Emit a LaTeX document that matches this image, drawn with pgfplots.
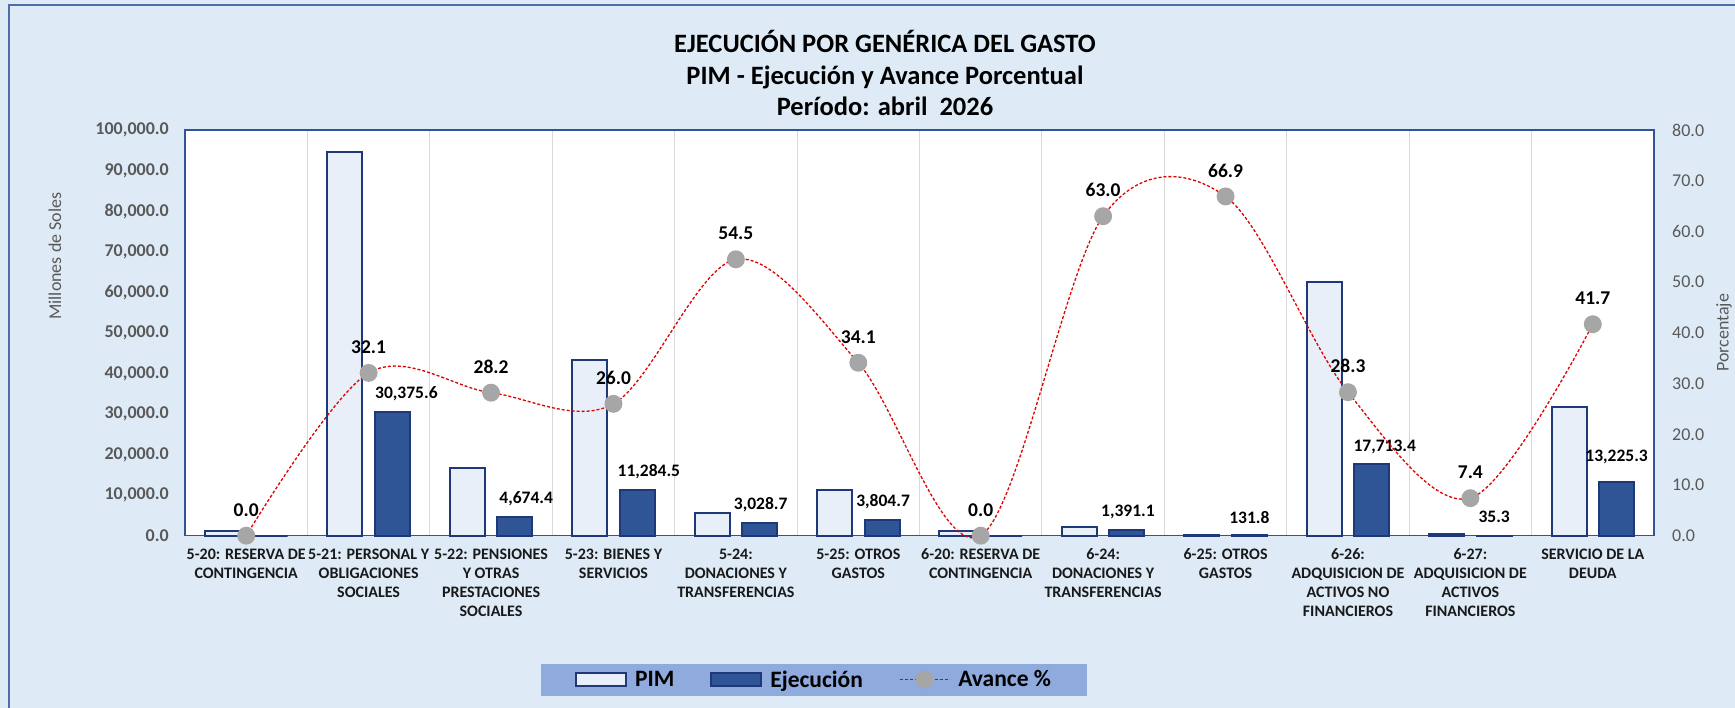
\documentclass[border=0pt]{standalone}
\usepackage{fontspec}
\setmainfont{Carlito}
\usepackage{pgfplots}
\usepackage{pgfplotstable}
\pgfplotsset{compat=1.18}

\definecolor{bgblue}{RGB}{222,235,247}
\definecolor{frameblue}{RGB}{47,85,151}
\definecolor{navy}{RGB}{31,56,120}
\definecolor{pimfill}{RGB}{232,239,249}
\definecolor{ejefill}{RGB}{47,85,151}
\definecolor{legblue}{RGB}{143,170,220}
\definecolor{ticgray}{RGB}{89,89,89}
\definecolor{gridgray}{RGB}{217,217,217}
\definecolor{mkgray}{RGB}{166,166,166}
\definecolor{linered}{RGB}{224,0,0}

\newcommand\ftitle{\fontsize{26.5}{32}\selectfont\bfseries}
\newcommand\fxtick{\fontsize{16}{19}\selectfont\bfseries}
\newcommand\fytick{\fontsize{18}{21}\selectfont\bfseries}
\newcommand\frtick{\fontsize{18}{21}\selectfont}
\newcommand\faxlab{\fontsize{18}{21}\selectfont}
\newcommand\fbar{\fontsize{17.5}{20}\selectfont\bfseries}
\newcommand\fpct{\fontsize{19.5}{22}\selectfont\bfseries}
\newcommand\fleg{\fontsize{23.5}{26}\selectfont\bfseries}

% x pim ejec pct (avance %), label text and label offsets of the Ejecucion bars
\pgfplotstableread{
x pim ejec pct ejlab dx dy
0 1150 0 0.0 {} 0 18
1 94628 30375.6 32.1 30,375.6 14 19
2 16576 4674.4 28.2 4,674.4 11.4 18.4
3 43402 11284.5 26.0 11,284.5 11.6 18.2
4 5557 3028.7 54.5 3,028.7 1 18.4
5 11157 3804.7 34.1 3,804.7 1 18.6
6 1100 0 0.0 {} 0 18
7 2208 1391.1 63.0 1,391.1 1 17.8
8 197 131.8 66.9 131.8 0 18
9 62591 17713.4 28.3 17,713.4 13 17
10 477 35.3 7.4 35.3 0 19
11 31715 13225.3 41.7 13,225.3 0 25
}\datatable

\pgfplotsset{
  barleg/.style={legend image code/.code={\draw[##1] (0pt,-6.5pt) rectangle (50pt,6.5pt);}},
  lineleg/.style={legend image code/.code={\draw[mark repeat=2,mark phase=2,##1] plot coordinates {(0pt,0pt) (25pt,0pt) (50pt,0pt)};}},
  commonax/.style={
    at={(185pt,172.3pt)}, anchor=south west,
    scale only axis, width=1469pt, height=405.7pt,
    xmin=-0.5, xmax=11.5,
    major tick length=0pt, minor tick length=0pt,
    axis line style={frameblue, line width=1.3pt},
    clip=false,
  },
}

\begin{document}
\begin{tikzpicture}[x=1pt,y=1pt]
\useasboundingbox (0,0) rectangle (1735,708);
\fill[bgblue] (0,0) rectangle (1735,708);
\draw[frameblue!85, line width=1.5pt] (9,-10) -- (9,703) -- (1750,703);

\node[anchor=base, font=\ftitle] at (885,655.7) {EJECUCIÓN POR GENÉRICA DEL GASTO};
\node[anchor=base, font=\ftitle] at (885,623.7) {PIM - Ejecución y Avance Porcentual};
\node[anchor=base, font=\ftitle] at (885,592.3) {Período: abril~~2026};

\begin{axis}[commonax,
    ybar=12.6pt, bar width=35pt,
    ymin=0, ymax=100000,
    xtick={0,...,11}, xtick pos=bottom, ytick pos=left,
    xticklabels={{5-20: RESERVA DE\\CONTINGENCIA},
                 {5-21: PERSONAL Y\\OBLIGACIONES\\SOCIALES},
                 {5-22: PENSIONES\\Y OTRAS\\PRESTACIONES\\SOCIALES},
                 {5-23: BIENES Y\\SERVICIOS},
                 {5-24:\\DONACIONES Y\\TRANSFERENCIAS},
                 {5-25: OTROS\\GASTOS},
                 {6-20: RESERVA DE\\CONTINGENCIA},
                 {6-24:\\DONACIONES Y\\TRANSFERENCIAS},
                 {6-25: OTROS\\GASTOS},
                 {6-26:\\ADQUISICION DE\\ACTIVOS NO\\FINANCIEROS},
                 {6-27:\\ADQUISICION DE\\ACTIVOS\\FINANCIEROS},
                 {SERVICIO DE LA\\DEUDA}},
    minor xtick={0.5,1.5,...,10.5},
    xminorgrids, minor x grid style={gridgray, line width=1pt},
    ytick={0,10000,...,100000},
    scaled y ticks=false,
    axis background/.style={fill=white},
    xticklabel style={font=\fxtick, text=black!90, align=center, anchor=north, inner sep=0pt, yshift=-13pt},
    yticklabel style={font=\fytick, text=ticgray, anchor=east, inner sep=0pt, xshift=-16pt,
      /pgf/number format/fixed, /pgf/number format/fixed zerofill,
      /pgf/number format/precision=1, /pgf/number format/1000 sep={,},
      /pgf/number format/assume math mode=true},
    ylabel={Millones de Soles},
    every axis y label/.style={at={(axis description cs:-0.0885,0.689)}, rotate=90, anchor=center, font=\faxlab, text=ticgray},
  ]
  \addplot[fill=pimfill, draw=navy, line width=2pt] table[x=x, y=pim]{\datatable};
  \addplot[fill=ejefill, draw=navy, line width=2pt,
    nodes near coords, point meta=explicit symbolic,
    visualization depends on={\thisrow{dx} \as \dxlab},
    visualization depends on={\thisrow{dy} \as \dylab},
    nodes near coords style={font=\fbar, text=black, anchor=center, inner sep=0pt, xshift=\dxlab, yshift=\dylab}]
    table[x=x, y=ejec, meta=ejlab]{\datatable};
\end{axis}

\begin{axis}[commonax,
    ymin=0, ymax=80,
    hide x axis, axis y line*=right,
    ytick={0,10,...,80},
    yticklabel style={font=\frtick, text=ticgray, anchor=west, inner sep=0pt, xshift=18pt,
      /pgf/number format/fixed, /pgf/number format/fixed zerofill,
      /pgf/number format/precision=1, /pgf/number format/assume math mode=true},
    ylabel={Porcentaje},
    every axis y label/.style={at={(axis description cs:1.0477,0.5)}, rotate=90, anchor=center, font=\faxlab, text=ticgray},
    legend columns=3,
    legend cell align=left,
    legend style={at={(axis description cs:0.4282,-0.3545)}, anchor=center, draw=none, fill=legblue,
      font=\fleg, inner xsep=34pt, inner ysep=5pt,
      /tikz/every odd column/.append style={column sep=6pt},
      /tikz/every even column/.append style={column sep=34pt}},
  ]
  \addlegendimage{barleg, fill=pimfill, draw=navy, line width=2pt}
  \addlegendentry{PIM}
  \addlegendimage{barleg, fill=ejefill, draw=navy, line width=2pt}
  \addlegendentry{Ejecución}
  \addplot[lineleg, linered, line width=1.3pt, dash pattern=on 3pt off 2pt,
    smooth, tension=0.55,
    mark=*, mark size=8.3pt, mark options={solid, fill=mkgray, draw=mkgray},
    nodes near coords, point meta=explicit symbolic,
    nodes near coords style={font=\fpct, text=black, anchor=center, inner sep=0pt, yshift=26pt}]
    table[x=x, y=pct, meta=pct]{\datatable};
  \addlegendentry{Avance \%}
\end{axis}
\end{tikzpicture}
\end{document}
